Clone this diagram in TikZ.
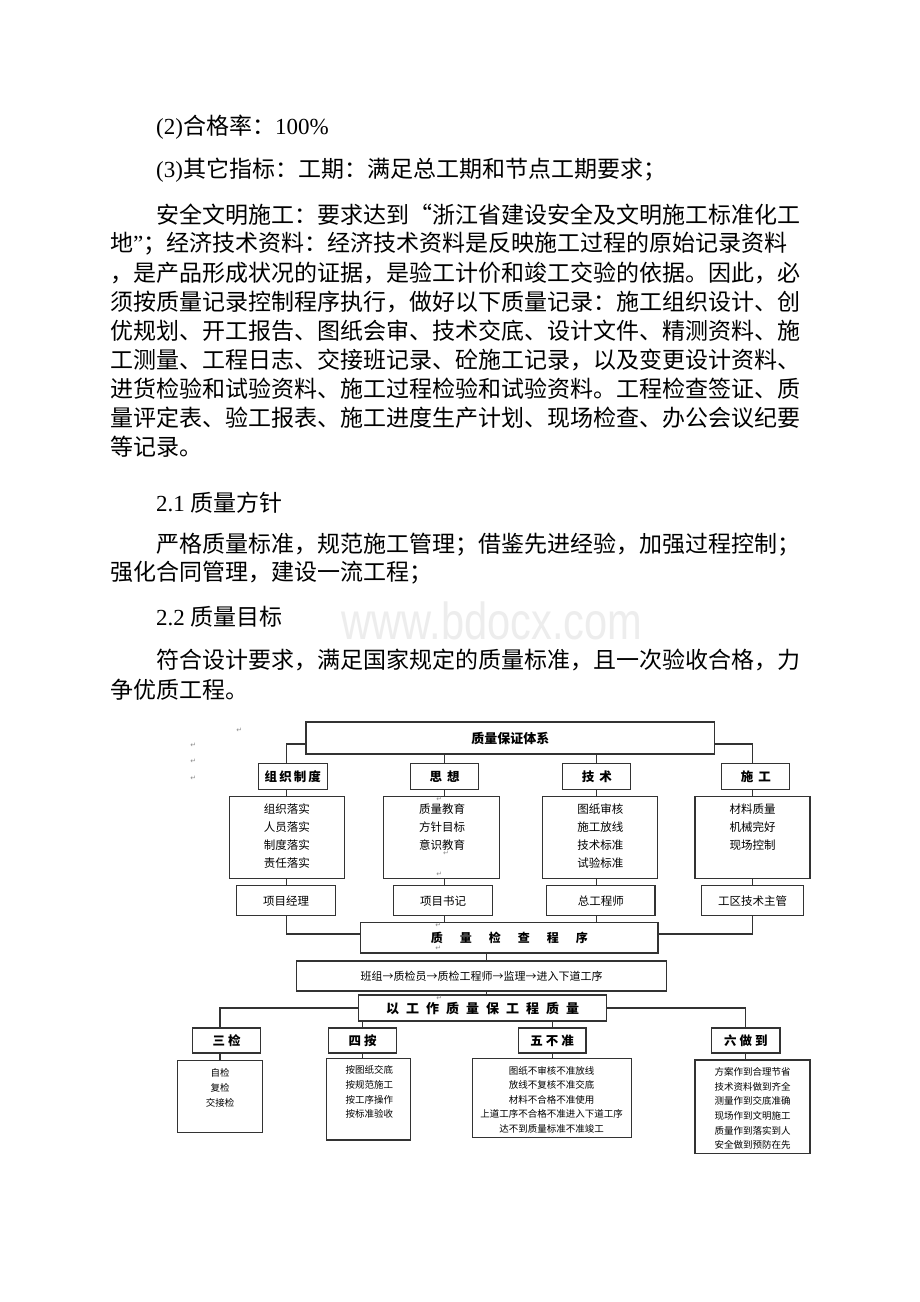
\documentclass[tikz,border=0pt]{standalone}
\usepackage{fontspec}
\setmainfont{Liberation Serif}
\newfontfamily\cjk{Noto Sans CJK SC}
\newfontfamily\symf{DejaVu Sans}
\newfontfamily\wmark{Liberation Sans}

\tikzset{
  boxframe/.style={draw=black!80, line width=1.2pt, inner sep=0pt},
  wire/.style={draw=black!80, line width=1.2pt},
  bodyline/.style={anchor=west, inner sep=0pt, font=\cjk\fontsize{23}{28}\selectfont},
  headbox/.style={boxframe, minimum height=26pt, font=\cjk\bfseries\fontsize{12.5}{14}\selectfont},
  rolebox/.style={boxframe, minimum height=30pt, font=\cjk\fontsize{11.5}{13}\selectfont},
  itemtext/.style={inner sep=0pt, font=\cjk\fontsize{11.5}{13}\selectfont},
  smalltext/.style={inner sep=0pt, font=\cjk\fontsize{9.5}{11}\selectfont},
  retmark/.style={inner sep=0pt, text=black!45, font=\symf\fontsize{7}{8}\selectfont}
}

\begin{document}
\begin{tikzpicture}[x=1pt,y=-1pt]
\fill[white] (0,0) rectangle (920,1302);
\useasboundingbox (0,0) rectangle (920,1302);

% watermark
\node[inner sep=0pt, text=black!7, xscale=0.8, transform shape, font=\wmark\fontsize{52}{56}\selectfont] (wm) at (492,621) {www.bdocx.com};

% text above the chart
\node[bodyline] (t1) at (156,127) {{\rmfamily (2)}合格率：{\rmfamily 100\%}};
\node[bodyline] (t2) at (156,170) {{\rmfamily (3)}其它指标：工期：满足总工期和节点工期要求；};
\node[bodyline] (t3) at (156.7,215) {安全文明施工：要求达到“浙江省建设安全及文明施工标准化工};
\node[bodyline] (t4) at (110,244) {地{\rmfamily ”}；经济技术资料：经济技术资料是反映施工过程的原始记录资料};
\node[bodyline] (t5) at (110,273) {，是产品形成状况的证据，是验工计价和竣工交验的依据。因此，必};
\node[bodyline] (t6) at (110,302) {须按质量记录控制程序执行，做好以下质量记录：施工组织设计、创};
\node[bodyline] (t7) at (110,331) {优规划、开工报告、图纸会审、技术交底、设计文件、精测资料、施};
\node[bodyline] (t8) at (110,360) {工测量、工程日志、交接班记录、砼施工记录，以及变更设计资料、};
\node[bodyline] (t9) at (110,389) {进货检验和试验资料、施工过程检验和试验资料。工程检查签证、质};
\node[bodyline] (t10) at (110,418) {量评定表、验工报表、施工进度生产计划、现场检查、办公会议纪要};
\node[bodyline] (t11) at (110,447) {等记录。};
\node[bodyline] (t12) at (156,503) {{\rmfamily 2.1 }质量方针};
\node[bodyline] (t13) at (156,545) {严格质量标准，规范施工管理；借鉴先进经验，加强过程控制；};
\node[bodyline] (t14) at (110,573) {强化合同管理，建设一流工程；};
\node[bodyline] (t15) at (156,617) {{\rmfamily 2.2 }质量目标};
\node[bodyline] (t16) at (156,660) {符合设计要求，满足国家规定的质量标准，且一次验收合格，力};
\node[bodyline] (t17) at (110,690) {争优质工程。};

% paragraph marks
\node[retmark] (r1) at (239.3,730.7) {↵};
\node[retmark] (r2) at (193.3,745) {↵};
\node[retmark] (r3) at (193.3,761.7) {↵};
\node[retmark] (r4) at (193.3,778.3) {↵};

% top of the chart
\node[boxframe, minimum width=408.5pt, minimum height=32pt, font=\cjk\bfseries\fontsize{13}{15}\selectfont] (sys) at (510.25,738) {质量保证体系};
\node[headbox, minimum width=69pt] (hdA) at (292.8,776.25) {组\,织\,制\,度};
\node[headbox, minimum width=68pt] (hdB) at (444.5,776.25) {思\hspace{5pt}想};
\node[headbox, minimum width=68pt] (hdC) at (596.85,776.25) {技\hspace{5pt}术};
\node[headbox, minimum width=68pt] (hdD) at (755.85,776.25) {施\hspace{5pt}工};

\node[boxframe, minimum width=115pt, minimum height=81.6pt] (bxA) at (286.8,837.5) {};
\node[boxframe, minimum width=116pt, minimum height=81.6pt] (bxB) at (441.3,837.5) {};
\node[boxframe, minimum width=114.6pt, minimum height=81.6pt] (bxC) at (600,837.5) {};
\node[boxframe, minimum width=115pt, minimum height=81.6pt] (bxD) at (752.5,837.5) {};
\foreach \t [count=\i] in {组织落实,人员落实,制度落实,责任落实}
  \node[itemtext] (txA\i) at (286.8,791.3+18*\i) {\t};
\foreach \t [count=\i] in {质量教育,方针目标,意识教育}
  \node[itemtext] (txB\i) at (442,791.3+18*\i) {\t};
\foreach \t [count=\i] in {图纸审核,施工放线,技术标准,试验标准}
  \node[itemtext] (txC\i) at (600.3,791.3+18*\i) {\t};
\foreach \t [count=\i] in {材料质量,机械完好,现场控制}
  \node[itemtext] (txD\i) at (752.5,791.3+18*\i) {\t};

\node[rolebox, minimum width=99pt] (rlA) at (286.2,900.7) {项目经理};
\node[rolebox, minimum width=99.4pt] (rlB) at (443,900.7) {项目书记};
\node[rolebox, minimum width=108.3pt] (rlC) at (600.85,900.7) {总工程师};
\node[rolebox, minimum width=101.6pt] (rlD) at (752.5,900.7) {工区技术主管};

% middle of the chart
\node[boxframe, minimum width=297.3pt, minimum height=30.7pt, font=\cjk\bfseries\fontsize{12}{14}\selectfont] (qc) at (509.35,937.65) {质\hspace{17pt}量\hspace{17pt}检\hspace{17pt}查\hspace{17pt}程\hspace{17pt}序};
\node[boxframe, minimum width=370pt, minimum height=30pt, font=\cjk\fontsize{11}{13}\selectfont] (chain) at (481.7,976) {班组→质检员→质检工程师→监理→进入下道工序};
\node[boxframe, minimum width=248.2pt, minimum height=26pt, font=\cjk\bfseries\fontsize{13}{15}\selectfont] (wq) at (482.6,1008) {以\hspace{7pt}工\hspace{7pt}作\hspace{7pt}质\hspace{7pt}量\hspace{7pt}保\hspace{7pt}工\hspace{7pt}程\hspace{7pt}质\hspace{7pt}量};
\coordinate (spine) at (486.7,957);

\node[retmark] (r5) at (439.3,799.3) {↵};
\node[retmark] (r6) at (446,853) {↵};
\node[retmark] (r7) at (439.3,874) {↵};
\node[retmark] (r8) at (438.3,925) {↵};
\node[retmark] (r9) at (438.3,948.3) {↵};
\node[retmark] (r10) at (439.3,998.3) {↵};

% bottom of the chart
\node[headbox, minimum width=68pt, minimum height=25pt] (hd3) at (226.7,1040.5) {三\hspace{3pt}检};
\node[headbox, minimum width=68pt, minimum height=25pt] (hd4) at (362.7,1040.5) {四\hspace{3pt}按};
\node[headbox, minimum width=67.7pt, minimum height=25pt] (hd5) at (552.2,1040.5) {五\hspace{3pt}不\hspace{3pt}准};
\node[headbox, minimum width=68.3pt, minimum height=25pt] (hd6) at (745.85,1040.5) {六\hspace{3pt}做\hspace{3pt}到};

\node[boxframe, minimum width=85.4pt, minimum height=72pt] (bx3) at (220,1096.7) {};
\node[boxframe, minimum width=84pt, minimum height=81.7pt] (bx4) at (368.7,1099.15) {};
\node[boxframe, minimum width=159pt, minimum height=79.4pt] (bx5) at (552.2,1098) {};
\node[boxframe, minimum width=115pt, minimum height=93.3pt] (bx6) at (752.5,1106.65) {};
\foreach \t [count=\i] in {自检,复检,交接检}
  \node[smalltext] (tx3\i) at (220,1058.3+15*\i) {\t};
\foreach \t [count=\i] in {按图纸交底,按规范施工,按工序操作,按标准验收}
  \node[smalltext] (tx4\i) at (369.3,1055.3+14.7*\i) {\t};
\foreach \t [count=\i] in {图纸不审核不准放线,放线不复核不准交底,材料不合格不准使用,上道工序不合格不准进入下道工序,达不到质量标准不准竣工}
  \node[smalltext] (tx5\i) at (551.7,1056.2+14.5*\i) {\t};
\foreach \t [count=\i] in {方案作到合理节省,技术资料做到齐全,测量作到交底准确,现场作到文明施工,质量作到落实到人,安全做到预防在先}
  \node[smalltext] (tx6\i) at (752.7,1057+14.7*\i) {\t};

% connectors
\draw[wire] ([yshift=-6pt]sys.west) -| (bxA.north |- hdA.north);
\draw[wire] (hdB.north |- sys.south) -- (hdB.north);
\draw[wire] (hdC.north |- sys.south) -- (hdC.north);
\draw[wire] ([yshift=-6pt]sys.east) -| (bxD.north |- hdD.north);
\draw[wire] (bxA.north |- hdA.south) -- (bxA.north);
\draw[wire] (hdB.south) -- (hdB.south |- bxB.north);
\draw[wire] (hdC.south) -- (hdC.south |- bxC.north);
\draw[wire] (bxD.north |- hdD.south) -- (bxD.north);
\draw[wire] (bxA.south) -- (bxA.south |- rlA.north);
\draw[wire] (hdB.south |- bxB.south) -- (hdB.south |- rlB.north);
\draw[wire] (hdC.south |- bxC.south) -- (hdC.south |- rlC.north);
\draw[wire] (bxD.south) -- (bxD.south |- rlD.north);
\draw[wire] (rlA.south) |- ([yshift=3.65pt]qc.west);
\draw[wire] (hdB.south |- rlB.south) -- (hdB.south |- qc.north);
\draw[wire] (hdC.south |- rlC.south) -- (hdC.south |- qc.north);
\draw[wire] (rlD.south) |- ([yshift=3.65pt]qc.east);
\draw[wire] (spine |- qc.south) -- (spine |- chain.north);
\draw[wire] (spine |- chain.south) -- (spine |- wq.north);
\draw[wire] (wq.west) -| (bx3.north |- hd3.north);
\draw[wire] (hd4.north |- wq.south) -- (hd4.north);
\draw[wire] (hd5.north |- wq.south) -- (hd5.north);
\draw[wire] (wq.east) -| (hd6.north);
\draw[wire] (bx3.north |- hd3.south) -- (bx3.north);
\draw[wire] (hd4.south) -- (hd4.south |- bx4.north);
\draw[wire] (hd5.south) -- (hd5.south |- bx5.north);
\draw[wire] (hd6.south) -- (hd6.south |- bx6.north);

\end{tikzpicture}
\end{document}
